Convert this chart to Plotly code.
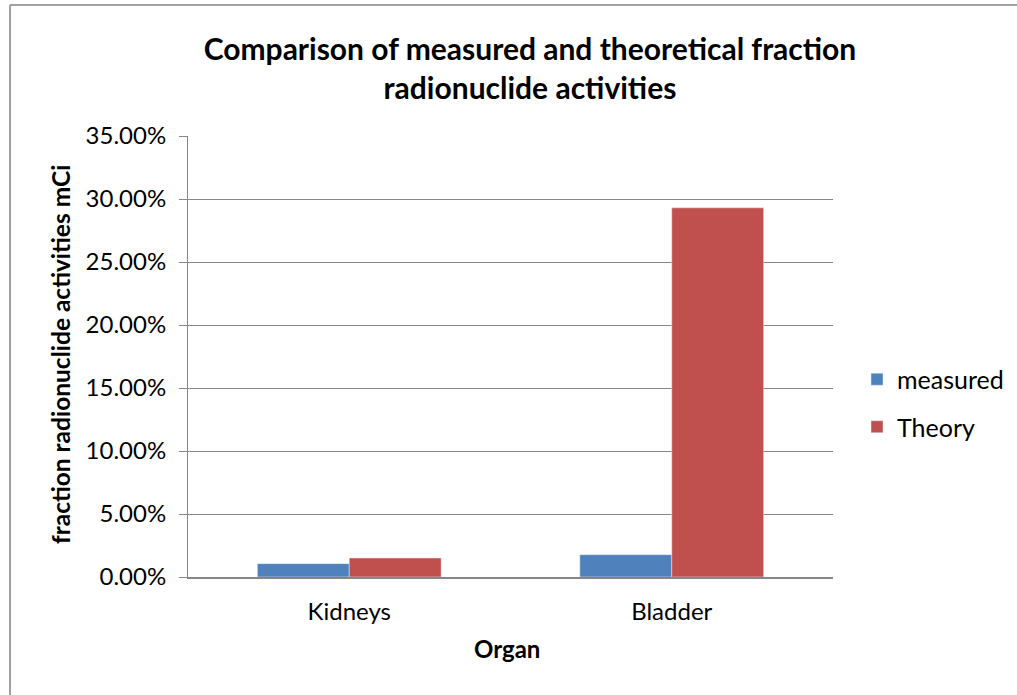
import plotly.graph_objects as go

categories = ["Kidneys", "Bladder"]
measured = [0.0106, 0.0177]
theory = [0.0151, 0.293]
y_ticks = [0, 0.05, 0.10, 0.15, 0.20, 0.25, 0.30, 0.35]

FONT = "Lato, 'Open Sans', sans-serif"

fig = go.Figure()
fig.add_trace(go.Bar(name="measured", x=categories, y=measured, marker_color="#4F81BD",
                     legendgroup="a"))
fig.add_trace(go.Bar(name="Theory", x=categories, y=theory, marker_color="#C0504D",
                     legendgroup="b"))

L, R, T, B = 188, 833, 136, 577
W, H = 1017, 695
pw, ph = R - L, B - T


def px(x):
    return (x - L) / pw


def py(y):
    return (B - y) / ph


fig.update_layout(
    width=W, height=H,
    margin=dict(l=L, r=W - R, t=T, b=H - B, autoexpand=False),
    paper_bgcolor="white", plot_bgcolor="white",
    barmode="group", bargap=0.43, bargroupgap=0,
    font=dict(family=FONT, color="black", size=24),
    title=dict(
        text="<b>Comparison of measured and theoretical fraction<br>radionuclide activities</b>",
        x=px(530), xref="paper", xanchor="center",
        y=1 - 60 / H, yanchor="middle",
        font=dict(size=30, family=FONT, color="black"),
    ),
    legend=dict(
        x=px(857), xanchor="left", y=py(403), yanchor="middle",
        font=dict(size=25, family=FONT),
        itemwidth=30, tracegroupgap=12, bgcolor="rgba(0,0,0,0)",
        traceorder="grouped",
    ),
    xaxis=dict(
        showline=True, linecolor="#868686", linewidth=2,
        ticks="", tickfont=dict(size=24, family=FONT),
        ticklabelstandoff=12,
        showgrid=False,
    ),
    yaxis=dict(
        range=[0, 0.35], tickvals=y_ticks, tickformat=".2%",
        showline=True, linecolor="#868686", linewidth=1,
        ticks="outside", ticklen=8, tickcolor="#868686",
        showgrid=True, gridcolor="#868686", gridwidth=1,
        zeroline=False,
        ticklabelstandoff=8,
        tickfont=dict(size=24, family=FONT),
    ),
    annotations=[
        dict(text="<b>fraction radionuclide activities mCi</b>", xref="paper", yref="paper",
             x=px(60), y=py(355), textangle=-90, showarrow=False,
             xanchor="center", yanchor="middle", font=dict(size=24.5, family=FONT)),
        dict(text="<b>Organ</b>", xref="paper", yref="paper",
             x=px(507), y=py(648), showarrow=False,
             xanchor="center", yanchor="middle", font=dict(size=24, family=FONT)),
    ],
    shapes=[
        dict(type="line", xref="paper", yref="paper",
             x0=px(10), x1=px(1030), y0=py(5), y1=py(5),
             line=dict(color="#A0A0A0", width=2)),
        dict(type="line", xref="paper", yref="paper",
             x0=px(10), x1=px(10), y0=py(5), y1=py(710),
             line=dict(color="#A0A0A0", width=2)),
    ],
)

fig.write_html(
    "out.html",
    config={"displayModeBar": False},
    post_script="document.body.style.margin='0';document.body.style.padding='0';",
)
